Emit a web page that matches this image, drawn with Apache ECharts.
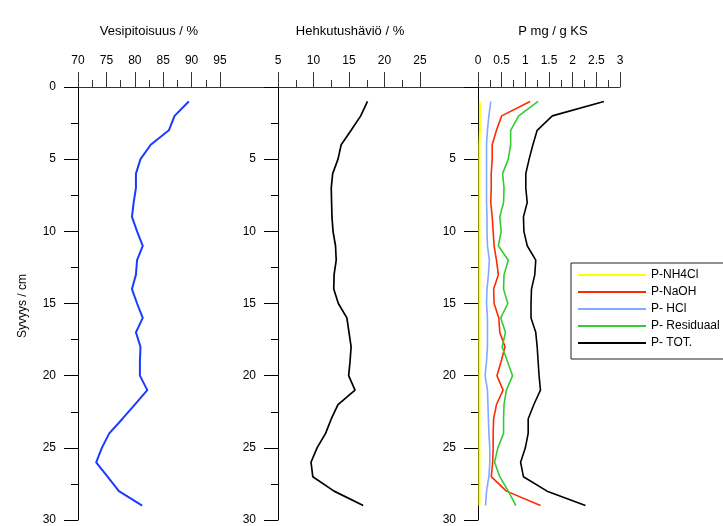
<!DOCTYPE html>
<html>
<head>
<meta charset="utf-8">
<title>Syvyysprofiilit</title>
<script src="https://cdn.jsdelivr.net/npm/echarts@6/dist/echarts.min.js"></script>
</head>
<body style="margin:0;background:#fff">
<div id="image" style="width:723px;height:526px"></div>
<script type="text/javascript">
// syvyydet (cm)
var depth = [1,2,3,4,5,6,7,8,9,10,11,12,13,14,15,16,17,18,19,20,21,22,23,24,25,26,27,28,29];

// vesipitoisuus %
var water = [89.5,87.0,86.0,82.8,81.0,80.2,80.2,79.8,79.5,80.4,81.4,80.4,80.2,79.5,80.4,81.4,80.2,81.0,80.9,80.9,82.2,80.0,77.8,75.5,74.2,73.2,75.2,77.2,81.3];

// hehkutushäviö %
var loi = [17.6,16.65,15.3,13.9,13.45,12.7,12.5,12.55,12.6,12.75,13.1,13.2,12.9,12.85,13.5,14.7,15.0,15.3,15.15,14.95,15.85,13.45,12.5,11.7,10.5,9.65,9.9,12.9,17.0];

// P-fraktiot mg / g KS
var pNH4Cl = [0.04,0.04,0.04,0.03,0.03,0.03,0.03,0.03,0.03,0.03,0.03,0.03,0.03,0.03,0.03,0.03,0.03,0.03,0.03,0.03,0.03,0.03,0.03,0.03,0.03,0.03,0.03,0.03,0.03];
var pNaOH = [1.10,0.50,0.39,0.30,0.30,0.28,0.28,0.27,0.30,0.32,0.34,0.39,0.43,0.33,0.34,0.44,0.46,0.57,0.49,0.40,0.53,0.39,0.33,0.32,0.32,0.31,0.28,0.60,1.32];
var pHCl = [0.27,0.23,0.20,0.18,0.18,0.18,0.18,0.18,0.19,0.19,0.20,0.24,0.22,0.19,0.18,0.20,0.20,0.20,0.18,0.15,0.20,0.21,0.22,0.23,0.25,0.25,0.23,0.18,0.16];
var pRes = [1.27,0.86,0.69,0.69,0.64,0.52,0.55,0.54,0.46,0.49,0.43,0.64,0.55,0.54,0.63,0.48,0.58,0.51,0.62,0.73,0.60,0.55,0.54,0.54,0.42,0.35,0.46,0.64,0.80];
var pTot = [2.66,1.57,1.25,1.16,1.08,1.01,1.01,1.04,0.96,0.97,1.04,1.22,1.20,1.13,1.12,1.12,1.22,1.25,1.27,1.29,1.32,1.18,1.06,1.06,1.00,0.90,0.96,1.46,2.27];

var titles = ['Vesipitoisuus / %', 'Hehkutushäviö / %', 'P mg / g KS'];
var pNames = ['P-NH4Cl', 'P-NaOH', 'P- HCl', 'P- Residuaal', 'P- TOT.'];

var font = 'Liberation Sans, Arial, sans-serif';
var axisCol = '#333';

// yhdistetään arvo ja syvyys pisteiksi
function pairs(vals) {
  var out = [];
  for (var i = 0; i < vals.length; i++) out.push([vals[i], depth[i]]);
  return out;
}

function xAx(idx, min, max, step) {
  return {
    type: 'value', gridIndex: idx, position: 'top', min: min, max: max, interval: step,
    axisLine: { show: true, lineStyle: { color: axisCol, width: 1 } },
    axisTick: { show: true, inside: false, length: 15, lineStyle: { color: axisCol } },
    minorTick: { show: true, splitNumber: 2, length: 7, lineStyle: { color: axisCol } },
    splitLine: { show: false },
    axisLabel: { margin: 20, fontSize: 12, color: '#000', fontFamily: font }
  };
}

function yAx(idx, showZero) {
  return {
    type: 'value', gridIndex: idx, inverse: true, min: 0, max: 30, interval: 5,
    axisLine: { show: true, lineStyle: { color: '#000', width: 1 } },
    axisTick: { show: true, length: 14, lineStyle: { color: '#000' } },
    minorTick: { show: true, splitNumber: 2, length: 7, lineStyle: { color: '#000' } },
    splitLine: { show: false },
    axisLabel: { margin: 22, fontSize: 12, color: '#000', fontFamily: font, showMinLabel: showZero }
  };
}

function line(name, vals, color, idx, w) {
  return {
    name: name, type: 'line', xAxisIndex: idx, yAxisIndex: idx,
    data: pairs(vals), symbol: 'none', silent: true, animation: false,
    lineStyle: { color: color, width: w }, itemStyle: { color: color }
  };
}

var myChart = echarts.init(document.getElementById('image'));

var tStyle = { fontSize: 13, fontWeight: 'normal', fontFamily: font, color: '#000' };

myChart.setOption({
  animation: false,
  grid: [
    { left: 78, top: 87, width: 142, height: 433 },
    { left: 278, top: 87, width: 142, height: 433 },
    { left: 478, top: 87, width: 142, height: 433 }
  ],
  title: [
    { text: titles[0], left: 144, top: 20, textAlign: 'center', textStyle: tStyle },
    { text: titles[1], left: 345, top: 20, textAlign: 'center', textStyle: tStyle },
    { text: titles[2], left: 548, top: 20, textAlign: 'center', textStyle: tStyle }
  ],
  graphic: [
    // yläakselin viiva jatkuu paneelien välissä
    { type: 'line', shape: { x1: 220, y1: 87.5, x2: 278, y2: 87.5 }, style: { stroke: axisCol, lineWidth: 1 } },
    { type: 'line', shape: { x1: 420, y1: 87.5, x2: 478, y2: 87.5 }, style: { stroke: axisCol, lineWidth: 1 } },
    { type: 'text', x: 23, y: 306, rotation: Math.PI / 2,
      style: { text: 'Syvyys / cm', fontSize: 12, fontFamily: font, fill: '#000', textAlign: 'center', textVerticalAlign: 'middle' } }
  ],
  legend: {
    data: pNames, orient: 'vertical', left: 571, top: 263,
    icon: 'rect', itemWidth: 68, itemHeight: 2, itemGap: 5,
    padding: [6, 30, 10, 7],
    borderColor: '#222', borderWidth: 1, backgroundColor: '#fff',
    textStyle: { fontSize: 12, fontFamily: font, color: '#000' }
  },
  xAxis: [ xAx(0, 70, 95, 5), xAx(1, 5, 25, 5), xAx(2, 0, 3, 0.5) ],
  yAxis: [ yAx(0, true), yAx(1, false), yAx(2, false) ],
  series: [
    line('Vesipitoisuus', water, '#1a3cff', 0, 2),
    line('Hehkutushäviö', loi, '#000', 1, 1.7),
    line(pNames[0], pNH4Cl, '#ffff00', 2, 2),
    line(pNames[1], pNaOH, '#ff2a00', 2, 1.6),
    line(pNames[2], pHCl, '#7eaaff', 2, 1.6),
    line(pNames[3], pRes, '#33cc33', 2, 1.6),
    line(pNames[4], pTot, '#000', 2, 1.6)
  ]
});
</script>
</body>
</html>
